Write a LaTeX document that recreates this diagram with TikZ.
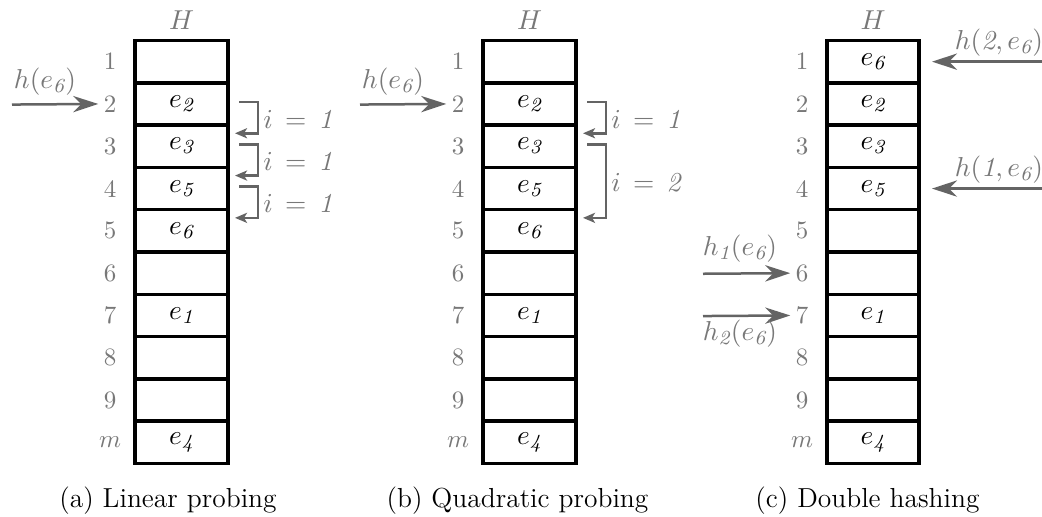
\documentclass[tikz,border=0pt]{standalone}
\usepackage{fontspec}
\usetikzlibrary{arrows.meta,calc}
\definecolor{lblgray}{RGB}{120,120,120}
\definecolor{arrgray}{RGB}{100,100,100}
\newcommand\dig[1]{\mathit{#1}}
\begin{document}
\begin{tikzpicture}[x=0.4pt,y=-0.4pt,
  cell/.style={draw=black,line width=1.4pt,minimum width=37.2pt,minimum height=16.92pt,
    inner sep=0pt,outer sep=0pt,font=\fontsize{10.95}{12}\selectfont},
  rowlbl/.style={text=lblgray,inner sep=2pt,font=\fontsize{10}{12}\selectfont},
  glabel/.style={text=lblgray,inner sep=1pt,font=\fontsize{10.95}{12}\selectfont},
  caption/.style={text=black,inner sep=0pt,font=\fontsize{11}{13}\selectfont},
  garrow/.style={draw=arrgray,line width=1pt,-{Stealth[length=10pt,width=6.5pt,inset=3.2pt]}},
  parrow/.style={draw=arrgray,line width=1pt,-{Stealth[length=4.8pt,width=4pt,inset=1.2pt]}}
]
\path[fill=white,use as bounding box] (0,0) rectangle (1042,516);

% tables
\foreach \p/\cx in {a/181.5,b/529.5}{
  \foreach \k/\lab/\t in {1/1/{},2/2/{$e_{\dig{2}}$},3/3/{$e_{\dig{3}}$},4/4/{$e_{\dig{5}}$},
      5/5/{$e_{\dig{6}}$},6/6/{},7/7/{$e_{\dig{1}}$},8/8/{},9/9/{},10/{$m$}/{$e_{\dig{4}}$}}{
    \node[cell] (\p\k) at (\cx,{40.5+(\k-0.5)*42.3}) {\t};
    \node[rowlbl] (l\p\k) at ({\cx-71.5},{40.5+(\k-0.5)*42.3}) {\lab};
  }
}
\foreach \k/\lab/\t in {1/1/{$e_{\dig{6}}$},2/2/{$e_{\dig{2}}$},3/3/{$e_{\dig{3}}$},4/4/{$e_{\dig{5}}$},
    5/5/{},6/6/{},7/7/{$e_{\dig{1}}$},8/8/{},9/9/{},10/{$m$}/{$e_{\dig{4}}$}}{
  \node[cell,minimum width=36.8pt] (c\k) at (873,{40.5+(\k-0.5)*42.3}) {\t};
  \node[rowlbl] (lc\k) at (802,{40.5+(\k-0.5)*42.3}) {\lab};
}

% headers
\node[glabel] (Ha) at (181.5,20) {$H$};
\node[glabel] (Hb) at (529.5,20) {$H$};
\node[glabel] (Hc) at (873,20) {$H$};

% (a) linear probing
\coordinate (sa) at (12,104.55);
\draw[garrow] (sa) -- (la2.west);
\node[glabel] (ha) at (45,82) {$h(e_{\dig{6}})$};
\foreach \k/\n in {2/3,3/4,4/5}{
  \draw[parrow] ($(a\k.east)+(11,-2)$) -| ($(a\n.east)+(30,-13)$) -- ($(a\n.east)+(7,-13)$);
  \node[glabel] (ia\k) at ($(a\k.east)+(70,15)$) {$i\,=\,\dig{1}$};
}

% (b) quadratic probing
\coordinate (sb) at (360,104.55);
\draw[garrow] (sb) -- (lb2.west);
\node[glabel] (hb) at (393,82) {$h(e_{\dig{6}})$};
\draw[parrow] ($(b2.east)+(11,-2)$) -| ($(b3.east)+(30,-13)$) -- ($(b3.east)+(7,-13)$);
\node[glabel] (ib1) at ($(b2.east)+(70,15)$) {$i\,=\,\dig{1}$};
\draw[parrow] ($(b3.east)+(11,-2)$) -| ($(b5.east)+(30,-13)$) -- ($(b5.east)+(7,-13)$);
\node[glabel] (ib2) at ($(b3.east)+(70,36)$) {$i\,=\,\dig{2}$};

% (c) double hashing
\coordinate (sc1) at (1042,61.65);
\draw[garrow] (sc1) -- ($(c1.east)+(13,0)$);
\node[glabel] (hc2) at (999,43) {$h(\dig{2},e_{\dig{6}})$};
\coordinate (sc4) at (1042,188.55);
\draw[garrow] (sc4) -- ($(c4.east)+(13,0)$);
\node[glabel] (hc1) at (999,170) {$h(\dig{1},e_{\dig{6}})$};
\coordinate (sc6) at (703,273.75);
\draw[garrow] (sc6) -- (lc6.west);
\node[glabel] (h1c) at (740,249) {$h_{\dig{1}}(e_{\dig{6}})$};
\coordinate (sc7) at (703,316.05);
\draw[garrow] (sc7) -- (lc7.west);
\node[glabel] (h2c) at (740,334) {$h_{\dig{2}}(e_{\dig{6}})$};

% captions
\node[caption] (capa) at (168,501) {(a) Linear probing};
\node[caption] (capb) at (517.5,501) {(b) Quadratic probing};
\node[caption] (capc) at (867.5,501) {(c) Double hashing};
\end{tikzpicture}
\end{document}
